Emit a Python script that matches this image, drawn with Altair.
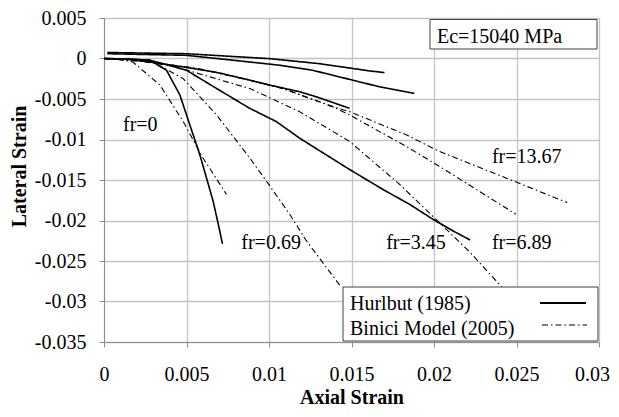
import altair as alt
import pandas as pd

# ---------------- data ----------------
# Hurlbut (1985) experimental curves (solid)
h_fr0_x = [0, 0.00157, 0.00278, 0.00379, 0.0046, 0.0052, 0.0058, 0.00621, 0.00661, 0.00697, 0.00718]
h_fr0_y = [0, -0.00006, -0.00022, -0.00145, -0.00451, -0.00819, -0.01183, -0.01473, -0.01759, -0.02086, -0.02289]

h_fr069_x = [0, 0.00278, 0.005, 0.00682, 0.00883, 0.01044, 0.01185, 0.01488, 0.01689, 0.01851, 0.01992, 0.02113, 0.02218]
h_fr069_y = [0, -0.0002, -0.00145, -0.0037, -0.00615, -0.00778, -0.00983, -0.0137, -0.01615, -0.01799, -0.01983, -0.02126, -0.0224]

h_fr345_x = [0, 0.00157, 0.00278, 0.0048, 0.0068, 0.00883, 0.01004, 0.01185, 0.01286, 0.01488]
h_fr345_y = [0, -0.00012, -0.00043, -0.00104, -0.0017, -0.00267, -0.00328, -0.0041, -0.00472, -0.00615]

h_fr689_x = [0.0002, 0.005, 0.00883, 0.01064, 0.01264, 0.01468, 0.01669, 0.01881]
h_fr689_y = [0.00059, 0.00039, -0.00043, -0.00083, -0.00145, -0.00248, -0.00349, -0.00431]

h_fr1367_x = [0.0002, 0.005, 0.01004, 0.01306, 0.01609, 0.017]
h_fr1367_y = [0.00074, 0.00059, -0.00002, -0.00064, -0.00153, -0.00174]

# Binici Model (2005) curves (dash-dot)
b_fr0_x = [0, 0.0009, 0.00175, 0.00339, 0.0048, 0.006, 0.00742]
b_fr0_y = [0, -0.0001, -0.00043, -0.00328, -0.00778, -0.01228, -0.01677]

b_fr069_x = [0, 0.00278, 0.0048, 0.00682, 0.00883, 0.00984, 0.01125, 0.01226, 0.01437]
b_fr069_y = [0, -0.00022, -0.00248, -0.00696, -0.01228, -0.01513, -0.01922, -0.02249, -0.02821]

b_fr345_x = [0, 0.0017, 0.00399, 0.00883, 0.01185, 0.01488, 0.0179, 0.0199, 0.02214, 0.02413]
b_fr345_y = [0, -0.0002, -0.00083, -0.0037, -0.00656, -0.01023, -0.01551, -0.01942, -0.02384, -0.02825]

b_fr689_x = [0, 0.00278, 0.0058, 0.00883, 0.01083, 0.01385, 0.01488, 0.01831, 0.02032, 0.02496]
b_fr689_y = [0, -0.00043, -0.00129, -0.00267, -0.0037, -0.00594, -0.00696, -0.01085, -0.0133, -0.01922]

b_fr1367_x = [0, 0.00278, 0.0058, 0.00883, 0.01083, 0.01385, 0.01488, 0.01831, 0.02032, 0.02808]
b_fr1367_y = [0, -0.00043, -0.00129, -0.00267, -0.0037, -0.00594, -0.00656, -0.00941, -0.01146, -0.01779]

# curve annotations
label_text = ["fr=0", "fr=0.69", "fr=3.45", "fr=6.89", "fr=13.67"]
label_x = [0.00115, 0.00832, 0.0171, 0.02351, 0.02351]
label_y = [-0.009, -0.0235, -0.0235, -0.0235, -0.0129]

x_ticks = [0, 0.005, 0.01, 0.015, 0.02, 0.025, 0.03]
y_ticks = [0.005, 0, -0.005, -0.01, -0.015, -0.02, -0.025, -0.03, -0.035]

legend_labels = ["Hurlbut (1985)", "Binici Model (2005)"]
note_text = "Ec=15040 MPa"
x_title = "Axial Strain"
y_title = "Lateral Strain"

# ---------------- build table ----------------
curves = [
    ("Hurlbut", "h0", h_fr0_x, h_fr0_y),
    ("Hurlbut", "h1", h_fr069_x, h_fr069_y),
    ("Hurlbut", "h2", h_fr345_x, h_fr345_y),
    ("Hurlbut", "h3", h_fr689_x, h_fr689_y),
    ("Hurlbut", "h4", h_fr1367_x, h_fr1367_y),
    ("Binici", "b0", b_fr0_x, b_fr0_y),
    ("Binici", "b1", b_fr069_x, b_fr069_y),
    ("Binici", "b2", b_fr345_x, b_fr345_y),
    ("Binici", "b3", b_fr689_x, b_fr689_y),
    ("Binici", "b4", b_fr1367_x, b_fr1367_y),
]
rows = []
for model, cid, xs, ys in curves:
    for i, (xv, yv) in enumerate(zip(xs, ys)):
        rows.append({"model": model, "curve": cid, "i": i, "x": xv, "y": yv})
df = pd.DataFrame(rows)
lab_df = pd.DataFrame({"t": label_text, "x": label_x, "y": label_y})

FONT = "Liberation Serif, Times New Roman, serif"
FS = 20
one = pd.DataFrame({"a": [0]})

xscale = alt.Scale(domain=[0, 0.03], nice=False, zero=False)
yscale = alt.Scale(domain=[-0.035, 0.005], nice=False, zero=False)

lines = alt.Chart(df).mark_line(color="black").encode(
    x=alt.X("x:Q", scale=xscale, axis=alt.Axis(
        values=x_ticks, labelExpr="datum.value + ''", grid=True,
        gridColor="#c4c4c4", gridWidth=1.3, domainColor="#8c8c8c",
        tickColor="#8c8c8c", tickSize=5, labelFont=FONT, labelFontSize=FS,
        labelColor="black", labelPadding=17, labelFlush=False, labelOverlap=False,
        labelOffset={"expr": "datum.value >= 0.029 ? -7 : 0"},
        title=x_title, titleFont=FONT, titleFontSize=FS, titleFontWeight="bold",
        titleColor="black", titleY=61, titleBaseline="alphabetic")),
    y=alt.Y("y:Q", scale=yscale, axis=alt.Axis(
        values=y_ticks, labelExpr="datum.value + ''", grid=True,
        gridColor="#c4c4c4", gridWidth=1.3, domainColor="#8c8c8c",
        tickColor="#8c8c8c", tickSize=5, labelFont=FONT, labelFontSize=FS,
        labelColor="black", labelPadding=13, labelFlush=False, labelOverlap=False,
        title=y_title, titleFont=FONT, titleFontSize=FS, titleFontWeight="bold",
        titleColor="black", titleX=-85, titleY=148, titleBaseline="middle")),
    detail="curve:N",
    order="i:Q",
    strokeDash=alt.StrokeDash("model:N", scale=alt.Scale(
        domain=["Hurlbut", "Binici"], range=[[1, 0], [6, 3, 1.5, 3]]), legend=None),
    strokeWidth=alt.StrokeWidth("model:N", scale=alt.Scale(
        domain=["Hurlbut", "Binici"], range=[1.6, 1.1]), legend=None),
)

labels = alt.Chart(lab_df).mark_text(
    align="left", baseline="alphabetic", font=FONT, fontSize=FS, color="black"
).encode(x=alt.X("x:Q", scale=xscale), y=alt.Y("y:Q", scale=yscale), text="t:N")

# note box
note_box = alt.Chart(one).mark_rect(fill="white", stroke="#404040", strokeWidth=1).encode(
    x=alt.value(326), x2=alt.value(493), y=alt.value(1.5), y2=alt.value(31))
note = alt.Chart(one).mark_text(align="left", baseline="alphabetic", font=FONT,
                                fontSize=FS, color="black").encode(
    x=alt.value(333), y=alt.value(25), text=alt.value(note_text))

# legend box
leg_box = alt.Chart(one).mark_rect(fill="white", stroke="#404040", strokeWidth=1).encode(
    x=alt.value(239), x2=alt.value(494), y=alt.value(269), y2=alt.value(323))
leg_t1 = alt.Chart(one).mark_text(align="left", baseline="alphabetic", font=FONT,
                                  fontSize=FS, color="black").encode(
    x=alt.value(246), y=alt.value(292), text=alt.value(legend_labels[0]))
leg_t2 = alt.Chart(one).mark_text(align="left", baseline="alphabetic", font=FONT,
                                  fontSize=FS, color="black").encode(
    x=alt.value(246), y=alt.value(317), text=alt.value(legend_labels[1]))
leg_l1 = alt.Chart(one).mark_rule(color="black", strokeWidth=1.8).encode(
    x=alt.value(436), x2=alt.value(482), y=alt.value(285))
leg_l2 = alt.Chart(one).mark_rule(color="black", strokeWidth=1.1,
                                  strokeDash=[6, 3, 1.5, 3]).encode(
    x=alt.value(438), x2=alt.value(483), y=alt.value(307))

chart = alt.layer(
    lines, labels, note_box, note, leg_box, leg_t1, leg_t2, leg_l1, leg_l2
).properties(
    width=495, height=324,
    autosize=alt.AutoSizeParams(type="none"),
    padding={"left": 96, "top": 10, "right": 12, "bottom": 66},
    background="white",
).configure_view(stroke=None)

chart.save("out.html", embed_options={"renderer": "svg", "actions": False})
